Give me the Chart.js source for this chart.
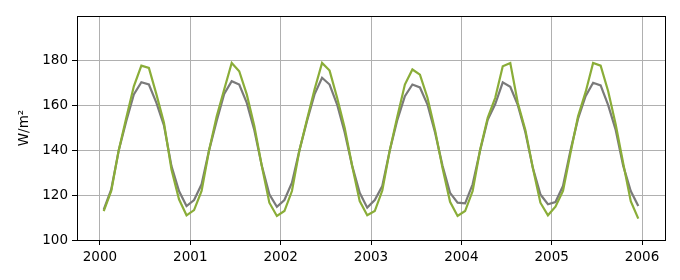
<!DOCTYPE html>
<html>
<head>
<meta charset="utf-8">
<script src="https://cdn.jsdelivr.net/npm/chart.js@4"></script>
<style>
  html, body { margin: 0; padding: 0; background: #fff; }
  #wrap { width: 680px; height: 280px; }
</style>
</head>
<body>
<div id="wrap"><canvas id="chart"></canvas></div>
<script>
// valori mensili 2000-2005 (W/m2)
const years = [2000, 2001, 2002, 2003, 2004, 2005];
const xTicks = [2000, 2001, 2002, 2003, 2004, 2005, 2006];
const yTicks = [100, 120, 140, 160, 180];

const grayValues = [
  113.5, 122.5, 140, 153, 164.8, 170.2, 169.2, 161, 151, 132.9, 121.8, 115.1,
  117.8, 124.8, 140, 153, 165, 170.7, 169.2, 161, 149, 133, 120.3, 114.8,
  117.8, 125.5, 140, 153, 164.8, 172.2, 169.2, 160.3, 148, 133, 121, 114.4,
  117.8, 124, 140, 153.5, 164, 169.2, 167.9, 160.3, 148, 133, 121, 116.6,
  116.3, 124.8, 140, 153.5, 160.5, 170.2, 168.2, 160, 148, 132, 120.3, 115.9,
  116.9, 124, 140, 154, 164, 170, 168.8, 160, 149, 133, 121.8, 115.1
];

const greenValues = [
  112.9, 121.8, 140, 154.4, 168.4, 177.6, 176.6, 164.8, 152.2, 131.4, 118.1, 111,
  113.3, 121.8, 140, 155, 167, 178.8, 175.1, 164.8, 150.7, 132.9, 116.6, 110.7,
  112.9, 121.8, 140, 153.6, 167, 178.8, 175.4, 163.3, 150, 132.9, 117.3, 111,
  112.9, 122, 140, 155, 169.2, 175.9, 173.6, 163.3, 149, 132, 117, 110.7,
  112.9, 121.8, 140.3, 154.4, 163.3, 177.3, 178.8, 161, 149, 132, 116.6, 111,
  114.8, 121.8, 138.8, 155.1, 165.8, 178.8, 177.6, 166.2, 151.4, 134.1, 117.3, 109.5
];

// punti a metà mese
function toPoints(values) {
  return values.map((v, i) => ({ x: years[0] + (i + 0.5) / 12, y: v }));
}

// cornice nera attorno all'area del grafico
const frame = {
  id: 'frame',
  afterDraw(chart) {
    const a = chart.chartArea;
    const ctx = chart.ctx;
    ctx.save();
    ctx.strokeStyle = '#000';
    ctx.lineWidth = 1;
    ctx.strokeRect(Math.round(a.left) + 0.5, Math.round(a.top) + 0.5,
      Math.round(a.right - a.left), Math.round(a.bottom - a.top));
    ctx.restore();
  }
};

const tickFont = { family: 'DejaVu Sans', size: 13.5 };

new Chart(document.getElementById('chart').getContext('2d'), {
  type: 'line',
  data: {
    datasets: [
      {
        data: toPoints(grayValues),
        borderColor: '#7a7a7a',
        borderWidth: 2.2,
        pointRadius: 0,
        tension: 0,
        order: 1
      },
      {
        data: toPoints(greenValues),
        borderColor: '#8aad38',
        borderWidth: 2.2,
        pointRadius: 0,
        tension: 0,
        order: 0
      }
    ]
  },
  options: {
    responsive: true,
    maintainAspectRatio: false,
    animation: false,
    events: [],
    layout: { padding: { left: 16, right: 15, top: 16, bottom: 0 } },
    plugins: { legend: { display: false }, tooltip: { enabled: false } },
    scales: {
      x: {
        type: 'linear',
        min: 1999.746,
        max: 2006.254,
        afterBuildTicks: s => { s.ticks = xTicks.map(v => ({ value: v })); },
        afterFit: s => { s.height = 40; },
        ticks: { color: '#000', font: tickFont, maxRotation: 0, padding: 4,
                 callback: v => String(v) },
        grid: { color: '#b0b0b0', lineWidth: 1, tickColor: '#000', tickLength: 5 },
        border: { color: '#000' }
      },
      y: {
        min: 100,
        max: 199.7,
        afterBuildTicks: s => { s.ticks = yTicks.map(v => ({ value: v })); },
        afterFit: s => { s.width = 61; },
        ticks: { color: '#000', font: tickFont, padding: 4 },
        grid: { color: '#b0b0b0', lineWidth: 1, tickColor: '#000', tickLength: 5 },
        border: { color: '#000' },
        title: { display: true, text: 'W/m²', color: '#000', font: tickFont, padding: 0 }
      }
    }
  },
  plugins: [frame]
});
</script>
</body>
</html>
